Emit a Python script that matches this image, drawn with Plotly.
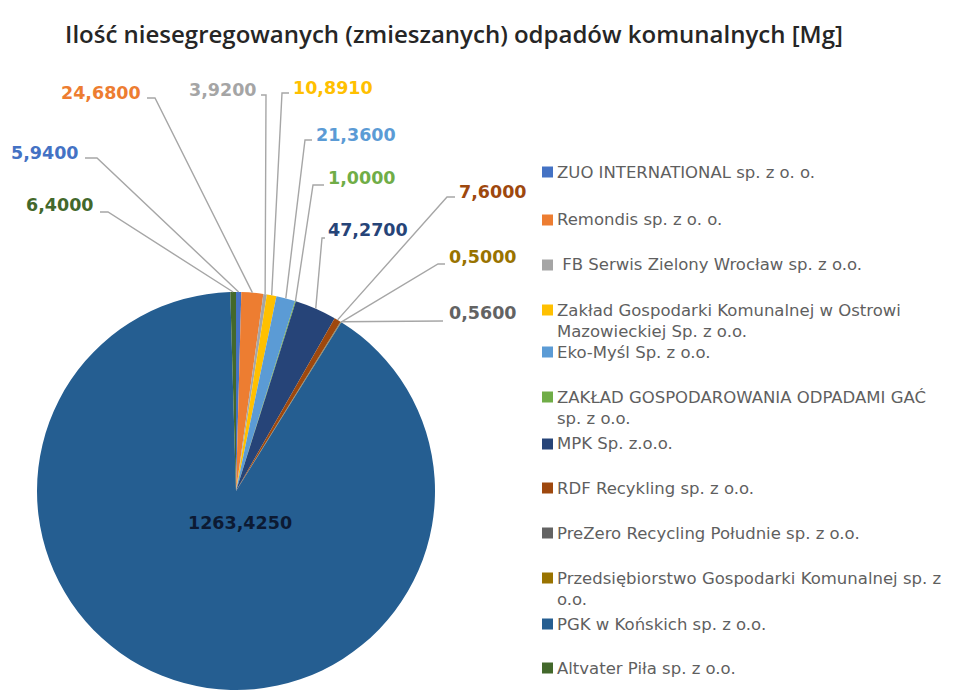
import plotly.graph_objects as go
import math

# ---------------- data ----------------
companies = [
    "ZUO INTERNATIONAL sp. z o. o.",
    "Remondis sp. z o. o.",
    "\u00a0FB Serwis Zielony Wrocław sp. z o.o.",
    "Zakład Gospodarki Komunalnej w Ostrowi<br>Mazowieckiej Sp. z o.o.",
    "Eko-Myśl Sp. z o.o.",
    "ZAKŁAD GOSPODAROWANIA ODPADAMI GAĆ<br>sp. z o.o.",
    "MPK Sp. z.o.o.",
    "RDF Recykling sp. z o.o.",
    "PreZero Recycling Południe sp. z o.o.",
    "Przedsiębiorstwo Gospodarki Komunalnej sp. z<br>o.o.",
    "PGK w Końskich sp. z o.o.",
    "Altvater Piła sp. z o.o.",
]
values = [5.94, 24.68, 3.92, 10.891, 21.36, 1.0, 47.27, 7.6, 0.56, 0.5, 1263.425, 6.4]
title_text = "Ilość niesegregowanych (zmieszanych) odpadów komunalnych [Mg]"

# ---------------- styles ----------------
colors = ["#4472C4", "#ED7D31", "#A5A5A5", "#FFC000", "#5B9BD5", "#70AD47",
          "#264478", "#9E480E", "#636363", "#997300", "#255E91", "#43682B"]

W, H = 959, 690
CX, CY, R = 236, 491, 199  # pie centre / radius in pixels

def px(x):
    return x / W

def py(y):
    return 1 - y / H

# label layout per slice: (text x, text y, anchor, stub start x, elbow x, elbow y) ; None = inside label
label_layout = [
    (80, 153, "right", 85, 97, 158),
    (142, 93, "right", 147, 155, 98),
    (258, 90, "right", 261, 266, 95),
    (292, 88, "left", 289, 282, 93),
    (315, 135, "left", 312, 305, 140),
    (327, 178, "left", 324, 313, 185),
    (327, 230, "left", 325, 322, 238),
    (458, 192, "left", 455, 447, 197),
    (448, 313, "left", 443, 443, 321),
    (448, 257, "left", 445, 438, 264),
    None,
    (95, 205, "right", 100, 108, 212),
]
inside_label_offset = (4, 32)
LABEL_FONT = dict(family="DejaVu Sans", size=17.5)
legend_x_marker, legend_x_text = 547.5, 556
legend_y = [172, 220, 265, 310, 352, 397, 444, 488, 533, 578, 624, 668]
LEG_FONT = 16.5
LINE_GAP = 1.3 * LEG_FONT

fig = go.Figure()
fig.add_trace(go.Pie(
    values=values,
    labels=[c.replace("<br>", " ") for c in companies],
    marker=dict(colors=colors, line=dict(width=0)),
    sort=False, direction="clockwise", rotation=0,
    textinfo="none", showlegend=False,
    domain=dict(x=[px(CX - R), px(CX + R)], y=[py(CY + R), py(CY - R)]),
))

total = sum(values)
annotations = []
shapes = []
cum = 0.0
for i, v in enumerate(values):
    theta = 2 * math.pi * (cum + v / 2) / total
    cum += v
    txt = f"{v:.4f}".replace(".", ",")
    lay = label_layout[i]
    if lay is None:
        annotations.append(dict(
            x=px(CX + inside_label_offset[0]), y=py(CY + inside_label_offset[1]),
            xref="paper", yref="paper", text=f"<b>{txt}</b>", showarrow=False,
            font=dict(**LABEL_FONT, color="#0c1a33"), borderpad=0,
            xanchor="center", yanchor="middle"))
        continue
    tx, ty, anc, sx, ex, ey = lay
    annotations.append(dict(
        x=px(tx), y=py(ty), xref="paper", yref="paper", text=f"<b>{txt}</b>",
        showarrow=False, font=dict(**LABEL_FONT, color=colors[i]), borderpad=0,
        xanchor=anc, yanchor="middle"))
    ax = CX + R * math.sin(theta)
    ay = CY - R * math.cos(theta)
    shapes.append(dict(
        type="path", xref="paper", yref="paper",
        path=f"M {px(sx)},{py(ey)} L {px(ex)},{py(ey)} L {px(ax)},{py(ay)}",
        line=dict(color="#a6a6a6", width=1.4)))

# legend (custom, Excel-like)
for i, name in enumerate(companies):
    y0 = legend_y[i]
    nlines = name.count("<br>") + 1
    shapes.append(dict(
        type="rect", xref="paper", yref="paper",
        x0=px(legend_x_marker - 5.5), x1=px(legend_x_marker + 5.5),
        y0=py(y0 + 5.5), y1=py(y0 - 5.5),
        fillcolor=colors[i], line=dict(width=0)))
    annotations.append(dict(
        x=px(legend_x_text), y=py(y0 + (nlines - 1) * LINE_GAP / 2),
        xref="paper", yref="paper", text=name, showarrow=False, align="left",
        font=dict(family="DejaVu Sans", size=LEG_FONT, color="#5f5f5f"), borderpad=0,
        xanchor="left", yanchor="middle"))

fig.update_layout(
    width=W, height=H,
    margin=dict(l=0, r=0, t=0, b=0),
    paper_bgcolor="white", plot_bgcolor="white",
    title=dict(text=title_text, x=454 / W, xanchor="center",
               y=py(35), yanchor="middle",
               font=dict(family="Open Sans", size=24, color="#262626", weight=600)),
    annotations=annotations, shapes=shapes,
)

fig.write_html("out.html", config={"displayModeBar": False},
               post_script="document.body.style.margin='0px';")
